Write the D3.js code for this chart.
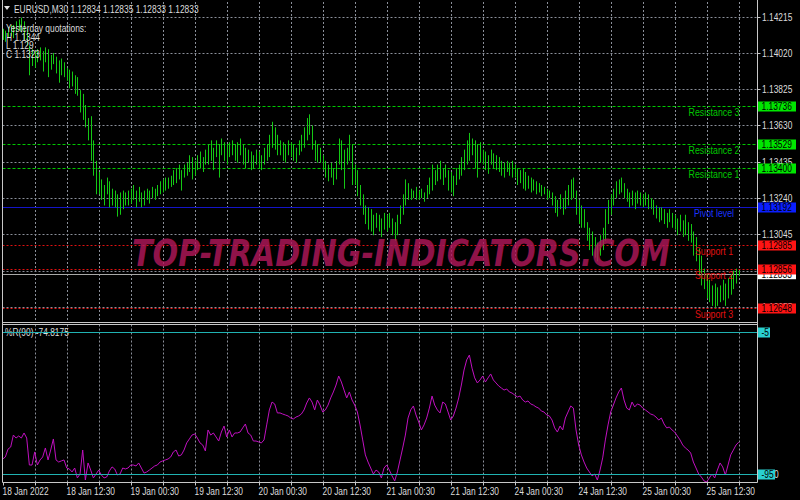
<!DOCTYPE html>
<html><head><meta charset="utf-8">
<script src="https://cdn.jsdelivr.net/npm/d3@7"></script>
<style>html,body{margin:0;padding:0;background:#000;overflow:hidden}</style>
</head><body>
<svg id="c" width="800" height="500"></svg>
<script>
// ---------- DATA ----------
const barHigh = [
1.1415,1.1414,1.1416,1.1417,1.1417,1.1419,1.1420,1.1421,1.1419,1.1415,1.1406,1.1404,
1.1403,1.1404,1.1405,1.1403,1.1405,1.1404,1.1401,1.1402,1.1400,1.1398,1.1399,1.1397,
1.1394,1.1393,1.1392,1.1390,1.1389,1.1382,1.1380,1.1374,1.1367,1.1368,1.1355,1.1344,
1.1338,1.1334,1.1331,1.1335,1.1333,1.1329,1.1328,1.1326,1.1327,1.1328,1.1327,1.1328,
1.1329,1.1331,1.1328,1.1330,1.1327,1.1328,1.1329,1.1328,1.1330,1.1329,1.1331,1.1333,
1.1334,1.1335,1.1335,1.1336,1.1339,1.1340,1.1342,1.1339,1.1342,1.1343,1.1347,1.1346,
1.1344,1.1347,1.1349,1.1346,1.1350,1.1353,1.1355,1.1351,1.1355,1.1353,1.1356,1.1354,
1.1353,1.1354,1.1355,1.1353,1.1354,1.1356,1.1353,1.1351,1.1350,1.1349,1.1347,1.1350,
1.1349,1.1347,1.1351,1.1353,1.1358,1.1365,1.1362,1.1358,1.1355,1.1354,1.1353,1.1355,
1.1354,1.1353,1.1351,1.1355,1.1358,1.1362,1.1367,1.1369,1.1363,1.1355,1.1353,1.1351,
1.1347,1.1344,1.1342,1.1343,1.1340,1.1344,1.1356,1.1355,1.1350,1.1351,1.1358,1.1353,
1.1342,1.1339,1.1331,1.1326,1.1320,1.1319,1.1318,1.1315,1.1316,1.1315,1.1313,1.1316,
1.1315,1.1316,1.1313,1.1311,1.1315,1.1320,1.1326,1.1334,1.1332,1.1329,1.1328,1.1330,
1.1328,1.1329,1.1327,1.1331,1.1335,1.1342,1.1339,1.1342,1.1344,1.1340,1.1342,1.1339,
1.1338,1.1336,1.1340,1.1342,1.1346,1.1350,1.1355,1.1359,1.1356,1.1355,1.1353,1.1354,
1.1350,1.1349,1.1347,1.1350,1.1348,1.1347,1.1346,1.1344,1.1343,1.1344,1.1343,1.1344,
1.1342,1.1340,1.1339,1.1340,1.1338,1.1336,1.1335,1.1334,1.1333,1.1332,1.1331,1.1330,
1.1329,1.1328,1.1327,1.1325,1.1323,1.1326,1.1324,1.1328,1.1331,1.1334,1.1335,1.1328,
1.1323,1.1320,1.1318,1.1311,1.1308,1.1306,1.1303,1.1300,1.1304,1.1308,1.1318,1.1323,
1.1326,1.1329,1.1333,1.1334,1.1335,1.1332,1.1329,1.1327,1.1328,1.1327,1.1328,1.1327,
1.1326,1.1327,1.1326,1.1324,1.1323,1.1320,1.1319,1.1319,1.1318,1.1316,1.1318,1.1316,
1.1315,1.1313,1.1315,1.1312,1.1315,1.1311,1.1310,1.1306,1.1303,1.1297,1.1293,1.1286,
1.1283,1.1280,1.1277,1.1278,1.1276,1.1277,1.1280,1.1278,1.1281,1.1283,1.1285,1.1286,1.1285
];
const barLow = [
1.1409,1.1408,1.1410,1.1411,1.1410,1.1413,1.1414,1.1413,1.1409,1.1406,1.1390,1.1395,
1.1394,1.1397,1.1398,1.1392,1.1397,1.1389,1.1393,1.1396,1.1391,1.1386,1.1390,1.1389,
1.1387,1.1383,1.1384,1.1380,1.1379,1.1370,1.1366,1.1362,1.1355,1.1344,1.1336,1.1326,
1.1326,1.1323,1.1320,1.1326,1.1319,1.1320,1.1319,1.1314,1.1315,1.1318,1.1320,1.1320,
1.1321,1.1323,1.1319,1.1322,1.1319,1.1320,1.1323,1.1321,1.1324,1.1323,1.1325,1.1326,
1.1327,1.1328,1.1329,1.1330,1.1331,1.1332,1.1334,1.1328,1.1335,1.1336,1.1338,1.1334,
1.1336,1.1339,1.1340,1.1338,1.1342,1.1342,1.1344,1.1339,1.1346,1.1335,1.1347,1.1344,
1.1342,1.1346,1.1347,1.1344,1.1343,1.1347,1.1342,1.1340,1.1343,1.1339,1.1340,1.1342,
1.1340,1.1339,1.1342,1.1344,1.1346,1.1351,1.1350,1.1347,1.1347,1.1344,1.1343,1.1347,
1.1346,1.1344,1.1343,1.1347,1.1349,1.1351,1.1355,1.1358,1.1350,1.1344,1.1343,1.1343,
1.1339,1.1335,1.1333,1.1335,1.1331,1.1334,1.1342,1.1339,1.1329,1.1342,1.1344,1.1331,
1.1331,1.1325,1.1320,1.1315,1.1310,1.1307,1.1306,1.1304,1.1308,1.1306,1.1303,1.1307,
1.1306,1.1308,1.1304,1.1301,1.1304,1.1310,1.1315,1.1320,1.1323,1.1323,1.1324,1.1323,
1.1323,1.1324,1.1322,1.1324,1.1326,1.1328,1.1331,1.1333,1.1334,1.1331,1.1335,1.1328,
1.1327,1.1325,1.1331,1.1334,1.1336,1.1339,1.1342,1.1344,1.1347,1.1340,1.1335,1.1343,
1.1342,1.1339,1.1337,1.1342,1.1340,1.1339,1.1338,1.1336,1.1335,1.1338,1.1336,1.1335,
1.1335,1.1331,1.1332,1.1329,1.1328,1.1329,1.1327,1.1328,1.1326,1.1327,1.1325,1.1326,
1.1323,1.1324,1.1320,1.1316,1.1314,1.1318,1.1315,1.1318,1.1320,1.1323,1.1324,1.1315,
1.1310,1.1308,1.1308,1.1301,1.1296,1.1293,1.1292,1.1290,1.1293,1.1296,1.1301,1.1310,
1.1315,1.1320,1.1324,1.1326,1.1327,1.1324,1.1322,1.1319,1.1320,1.1318,1.1321,1.1320,
1.1319,1.1320,1.1318,1.1318,1.1315,1.1313,1.1311,1.1312,1.1310,1.1308,1.1311,1.1308,
1.1307,1.1304,1.1306,1.1303,1.1304,1.1301,1.1300,1.1293,1.1290,1.1283,1.1277,1.1275,
1.1270,1.1268,1.1266,1.1265,1.1266,1.1268,1.1269,1.1266,1.1270,1.1272,1.1275,1.1278,1.1282
];
const wpr = [
-85.5,-84.2,-79.2,-77.9,-70.3,-72.2,-70.9,-72.2,-69.0,-72.2,-89.3,-89.3,
-81.0,-89.3,-86.1,-84.2,-78.5,-86.1,-79.8,-72.8,-86.1,-87.4,-86.7,-86.1,
-91.2,-91.8,-93.7,-91.2,-97.5,-95.0,-79.8,-98.8,-88.0,-92.5,-97.5,-95.0,
-92.5,-95.6,-97.5,-96.9,-93.1,-90.5,-91.8,-95.6,-95.0,-91.2,-91.8,-91.2,
-89.3,-89.3,-89.9,-88.0,-91.2,-94.4,-93.7,-92.5,-91.2,-89.9,-89.3,-87.4,
-86.7,-86.1,-85.5,-84.2,-81.0,-79.8,-83.6,-82.9,-79.8,-75.3,-72.8,-70.3,
-69.6,-72.2,-75.3,-76.6,-80.4,-67.1,-70.3,-69.0,-71.5,-74.1,-68.4,-64.6,
-71.5,-67.1,-71.5,-69.0,-69.0,-68.4,-65.8,-63.3,-69.0,-70.3,-74.1,-74.1,
-74.7,-75.3,-73.4,-63.9,-54.4,-49.4,-50.6,-56.3,-56.3,-57.0,-57.6,-58.2,
-59.5,-60.1,-58.9,-58.2,-57.0,-54.4,-50.0,-46.8,-49.4,-54.4,-48.1,-51.3,
-55.7,-54.4,-51.3,-46.8,-43.0,-38.6,-32.9,-36.7,-41.8,-46.8,-43.0,-48.1,
-51.3,-55.7,-63.9,-73.4,-82.9,-87.4,-91.2,-95.0,-92.5,-93.7,-97.5,-91.2,
-89.3,-92.5,-96.2,-99.4,-93.7,-86.1,-78.5,-70.3,-59.5,-54.4,-51.9,-57.6,
-62.0,-67.1,-63.9,-59.5,-53.2,-45.6,-51.3,-54.4,-56.3,-49.4,-50.6,-55.7,
-60.8,-58.2,-53.2,-46.8,-38.6,-29.1,-22.7,-19.6,-27.9,-34.1,-37.3,-35.4,
-32.9,-36.7,-34.1,-31.6,-35.4,-37.3,-39.2,-40.5,-41.8,-41.1,-43.0,-43.7,
-44.9,-46.2,-45.6,-48.1,-49.4,-48.7,-50.6,-51.3,-52.5,-53.2,-55.1,-55.7,
-57.6,-58.2,-60.8,-65.8,-68.4,-64.6,-67.1,-59.5,-55.7,-51.9,-53.2,-67.1,
-76.6,-82.9,-87.4,-91.2,-93.7,-96.2,-95.0,-98.8,-92.5,-84.8,-73.4,-63.9,
-55.7,-51.3,-46.8,-43.0,-40.5,-48.1,-53.2,-54.4,-49.4,-52.5,-50.6,-51.3,
-53.2,-54.4,-55.7,-57.0,-57.6,-58.9,-60.8,-59.5,-63.3,-65.8,-65.2,-67.1,
-68.4,-70.9,-73.4,-76.6,-78.5,-79.8,-81.7,-87.4,-91.2,-95.0,-96.9,-99.4,
-100,-97.5,-95.0,-97.5,-92.5,-88.0,-90.5,-95.6,-89.3,-82.9,-79.8,-76.6,-74.8175
];
const priceTicks = [1.14215,1.14020,1.13825,1.13630,1.13435,1.13240,1.13045,1.12850,1.12655];
const timeLabels = ["18 Jan 2022","18 Jan 12:30","19 Jan 00:30","19 Jan 12:30","20 Jan 00:30","20 Jan 12:30",
                    "21 Jan 00:30","21 Jan 12:30","24 Jan 00:30","24 Jan 12:30","25 Jan 00:30","25 Jan 12:30"];
const levelNames  = ["Resistance 3","Resistance 2","Resistance 1","Pivot level","Support 1","Support 2","Support 3"];
const levelValues = [1.13736,1.13529,1.13400,1.13192,1.12985,1.12856,1.12648];
const levelKinds  = ["res","res","res","pivot","sup","sup","sup"];
const currentPrice = 1.12833;
const symbolName = "EURUSD,M30";
const headerQuotes = [1.12834,1.12835,1.12833,1.12833];
const yesterdayKeys = ["H","L","C"];
const yesterdayValues = ["1.1344","1.129","1.1323"];
const wprPeriod = 90;
const wprLevels = [-5,-95];

// ---------- LAYOUT ----------
const svg = d3.select("#c");
svg.append("rect").attr("width",800).attr("height",500).attr("fill","#000");
const L = 2.5, R = 757.5, mainTop = 2, mainBot = 322.5, indTop = 324.5, indBot = 482.5;
const FONT = "'Liberation Sans', Arial, sans-serif";
const N = Math.min(barHigh.length, barLow.length, wpr.length);

const x = d3.scaleLinear().domain([0,24]).range([2.7,66.7]);
const y = d3.scaleLinear().domain([1.12568,1.14294]).range([323,2]);
const wy = d3.scaleLinear().domain([0,-100]).range([324.1,481.9]);

const col = {grid:"#8a8f99", axis:"#c8c8c8", text:"#dcdcdc", res:"#00c800", resBox:"#00e600",
             pivot:"#1414c8", pivotBox:"#0a1eff", sup:"#e01010", supBox:"#ff1414",
             bars:"#14c814", wpr:"#c010c0", lvl:"#20b2b2"};

function txt(g, px, py, s, fill, opts={}) {
  const sx = opts.sx ?? 0.84, size = opts.size ?? 10;
  return g.append("text")
    .attr("transform", `translate(${px},${py}) scale(${sx},1)`)
    .attr("font-family", FONT).attr("font-size", size)
    .attr("text-anchor", opts.anchor || "start")
    .attr("fill", fill).text(s);
}

const gGrid = svg.append("g");
// vertical grid
const gridIdx = d3.range(12, N, 12);
gridIdx.forEach(i => {
  const xx = Math.round(x(i)) + 0.5;
  gGrid.append("line").attr("x1",xx).attr("x2",xx).attr("y1",mainTop).attr("y2",mainBot)
    .attr("stroke",col.grid).attr("stroke-dasharray","2,2");
  gGrid.append("line").attr("x1",xx).attr("x2",xx).attr("y1",indTop).attr("y2",indBot)
    .attr("stroke",col.grid).attr("stroke-dasharray","2,2");
});
// horizontal grid
priceTicks.forEach(p => {
  const yy = Math.round(y(p)) + 0.5;
  gGrid.append("line").attr("x1",L).attr("x2",R).attr("y1",yy).attr("y2",yy)
    .attr("stroke",col.grid).attr("stroke-dasharray","2,2");
});

// level lines
const gLev = svg.append("g");
levelValues.forEach((v,k) => {
  const yy = Math.round(y(v)) + 0.5, kind = levelKinds[k];
  const ln = gLev.append("line").attr("x1",L).attr("x2",R).attr("y1",yy).attr("y2",yy)
    .attr("stroke", col[kind]);
  if (kind === "res") ln.attr("stroke-dasharray","3,2");
  if (kind === "sup") ln.attr("stroke-dasharray","2,2");
});
// current price line
{
  const yy = Math.round(y(currentPrice)) + 0.5;
  gLev.append("line").attr("x1",L).attr("x2",R).attr("y1",yy).attr("y2",yy).attr("stroke","#a8a8a8");
}

// bars
const gBars = svg.append("g");
for (let i = 0; i < N; i++) {
  const xx = Math.round(x(i)) + 0.5;
  gBars.append("line").attr("x1",xx).attr("x2",xx)
    .attr("y1", y(barHigh[i])).attr("y2", y(barLow[i]))
    .attr("stroke", col.bars).attr("stroke-width", 1);
}

// watermark
svg.append("text").attr("x",132).attr("y",266)
  .attr("font-family","'DejaVu Sans', sans-serif").attr("font-weight","bold").attr("font-style","italic")
  .attr("font-size",38).attr("textLength",538).attr("lengthAdjust","spacingAndGlyphs")
  .attr("fill","#b0185a").attr("opacity",0.82).text("TOP-TRADING-INDICATORS.COM");

// level labels in chart
levelValues.forEach((v,k) => {
  const kind = levelKinds[k];
  const fill = kind === "res" ? col.res : kind === "pivot" ? "#1a32ff" : col.sup;
  txt(svg, 714, y(v) + 10, levelNames[k], fill, {anchor:"middle", sx:0.88});
});

// header
svg.append("path").attr("d","M4,6 L10,6 L7,10 Z").attr("fill","#e0e0e0");
txt(svg, 14, 13, symbolName + " " + headerQuotes.map(d3.format(".5f")).join(" "), col.text);
txt(svg, 6, 31.5, "Yesterday quotations:", col.text);
yesterdayKeys.forEach((k,j) => txt(svg, 6, [40.5,48.5,57.5][j], k + " " + yesterdayValues[j], col.text));

// indicator
svg.append("path").datum(wpr.slice(0,N))
  .attr("d", d3.line().x((d,i)=>x(i)).y(d=>wy(d)))
  .attr("fill","none").attr("stroke",col.wpr).attr("stroke-width",1);
txt(svg, 5, 335.5, `%R(${wprPeriod}) ${wpr[N-1]}`, col.text);
wprLevels.forEach(v => {
  const yy = Math.round(wy(v)) + 0.5;
  svg.append("line").attr("x1",L).attr("x2",R).attr("y1",yy).attr("y2",yy).attr("stroke",col.lvl).attr("stroke-width",1.2);
});

// frame
const gF = svg.append("g").attr("stroke",col.axis).attr("fill","none");
gF.append("line").attr("x1",L).attr("x2",L).attr("y1",0).attr("y2",indBot);
gF.append("line").attr("x1",R).attr("x2",R).attr("y1",0).attr("y2",indBot);
gF.append("line").attr("x1",L).attr("x2",R).attr("y1",mainBot).attr("y2",mainBot);
gF.append("line").attr("x1",L).attr("x2",R).attr("y1",indTop).attr("y2",indTop);
gF.append("line").attr("x1",L).attr("x2",R).attr("y1",indBot).attr("y2",indBot);

// time axis
d3.range(0, N, 12).forEach(i => {
  const xx = Math.round(x(i)) + 0.5;
  gF.append("line").attr("x1",xx).attr("x2",xx).attr("y1",indBot).attr("y2",indBot+3);
});
timeLabels.forEach((t,k) => txt(svg, Math.round(x(k*24)) - 0.5, 494.5, t, col.text));

// price axis
priceTicks.forEach(p => {
  const yy = Math.round(y(p)) + 0.5;
  gF.append("line").attr("x1",R).attr("x2",R+3).attr("y1",yy).attr("y2",yy);
  txt(svg, 762, yy + 3.5, d3.format(".5f")(p), col.text);
});
txt(svg, 762, 478, "-100", col.text);

function box(v, yy, fillBox, fillText, w) {
  svg.append("rect").attr("x",758).attr("y",yy-5).attr("width",w).attr("height",10).attr("fill",fillBox);
  txt(svg, 761.5, yy + 3.5, v, fillText);
}
box(d3.format(".5f")(currentPrice), y(currentPrice)+0.5, "#ffffff", "#000", 38);
levelValues.forEach((v,k) => {
  const kind = levelKinds[k];
  const fb = kind === "res" ? col.resBox : kind === "pivot" ? col.pivotBox : col.supBox;
  box(d3.format(".5f")(v), Math.round(y(v)) + 0.5, fb, "#000", 38);
});
wprLevels.forEach(v => box(String(v), Math.round(wy(v)) + 0.5, "#2ad0d0", "#000", String(v).length * 5 + 2));
</script>
</body></html>
